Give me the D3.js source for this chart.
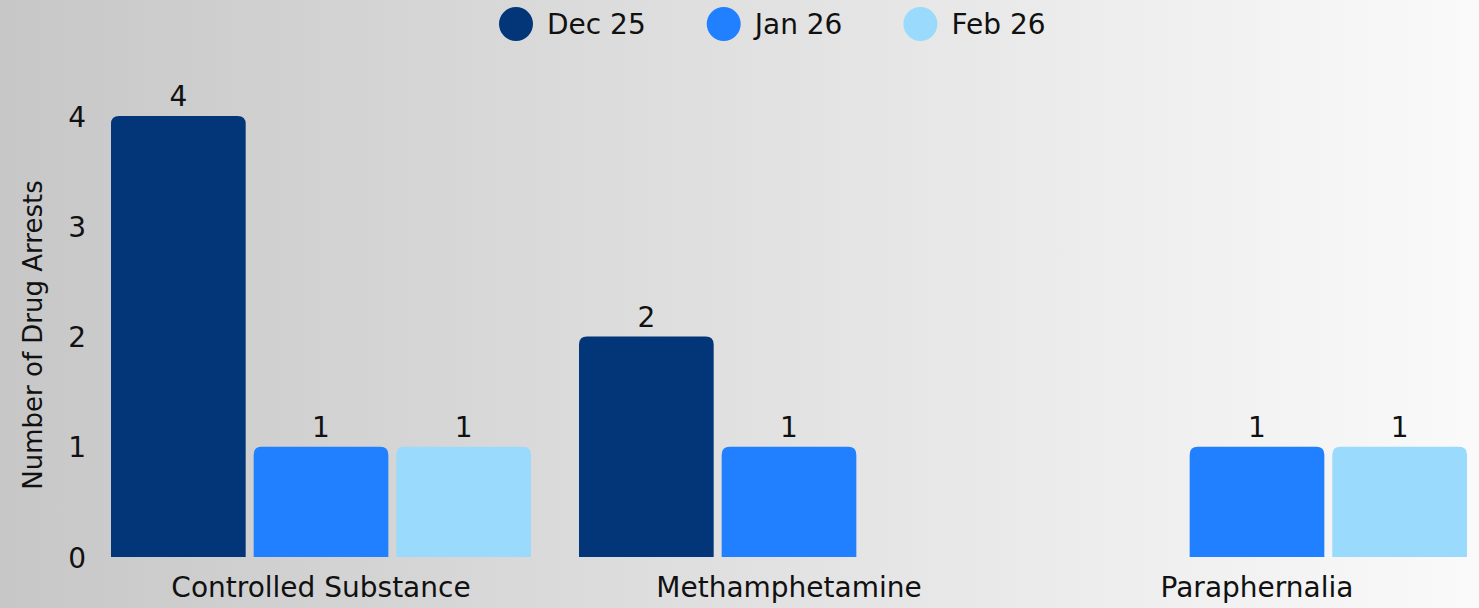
<!DOCTYPE html>
<html><head><meta charset="utf-8">
<script src="https://cdn.jsdelivr.net/npm/d3@7"></script>
<style>
html,body{margin:0;padding:0;width:1479px;height:608px;overflow:hidden;}
svg{display:block;font-family:"DejaVu Sans",sans-serif;}
</style></head>
<body>
<script>
const categories = ["Controlled Substance", "Methamphetamine", "Paraphernalia"];
const seriesNames = ["Dec 25", "Jan 26", "Feb 26"];
const dec25 = [4, 2, 0];
const jan26 = [1, 1, 1];
const feb26 = [1, 0, 1];
const yTicks = [0, 1, 2, 3, 4];
const colors = ["#033579", "#2180FF", "#9ADAFD"];
const yTitle = "Number of Drug Arrests";

const W = 1479, H = 608;
const series = [dec25, jan26, feb26];
const FONT = "'DejaVu Sans', sans-serif";
const FS = 28;

const svg = d3.select("body").append("svg").attr("width", W).attr("height", H);
const defs = svg.append("defs");
const grad = defs.append("linearGradient").attr("id","bg").attr("x1","0").attr("x2","1").attr("y1","0").attr("y2","0");
grad.append("stop").attr("offset","0").attr("stop-color","#c7c7c7");
grad.append("stop").attr("offset","1").attr("stop-color","#fafafa");
svg.append("rect").attr("width",W).attr("height",H).attr("fill","url(#bg)");

const x0 = d3.scaleBand().domain(categories).range([111, 1467]).paddingInner(48/468).paddingOuter(0);
const x1 = d3.scaleBand().domain(seriesNames).range([0, x0.bandwidth()]).paddingInner(8/143).paddingOuter(0);
const y = d3.scaleLinear().domain([0, 4]).range([557, 116]);

const textColor = "#111";

// y ticks
const yAxis = d3.axisLeft(y).tickValues(yTicks).tickFormat(d3.format("d")).tickSize(0).tickPadding(0);
const ya = svg.append("g").attr("transform","translate(86,0)").call(yAxis);
ya.select(".domain").remove();
ya.selectAll("text").attr("font-size",FS).attr("fill",textColor).attr("font-family",FONT).attr("dy","0.36em");

// y title
svg.append("text").attr("transform","translate(42,335) rotate(-90)")
  .attr("text-anchor","middle").attr("font-size",26).attr("fill",textColor).text(yTitle);

// bars
const r = 8;
function barPath(x, yTop, w, yBot){
  const rr = Math.min(r, (yBot - yTop), w/2);
  return `M${x},${yBot}V${yTop+rr}Q${x},${yTop} ${x+rr},${yTop}H${x+w-rr}Q${x+w},${yTop} ${x+w},${yTop+rr}V${yBot}Z`;
}
const data = [];
categories.forEach((c, i) => {
  seriesNames.forEach((s, j) => {
    data.push({c, s, j, v: series[j][i]});
  });
});
const g = svg.append("g");
g.selectAll("path.bar").data(data.filter(d => d.v > 0)).join("path")
  .attr("class","bar")
  .attr("d", d => barPath(x0(d.c) + x1(d.s), y(d.v), x1.bandwidth(), y(0)))
  .attr("fill", d => colors[d.j]);
g.selectAll("text.val").data(data.filter(d => d.v > 0)).join("text")
  .attr("class","val")
  .attr("x", d => x0(d.c) + x1(d.s) + x1.bandwidth()/2)
  .attr("y", d => y(d.v) - 10)
  .attr("text-anchor","middle").attr("font-size",FS).attr("fill",textColor)
  .text(d => d.v);

// x axis labels
const xAxis = d3.axisBottom(x0).tickSize(0).tickPadding(0);
const xa = svg.append("g").attr("transform","translate(0,557)").call(xAxis);
xa.select(".domain").remove();
xa.selectAll("text").attr("font-size",FS).attr("fill",textColor).attr("font-family",FONT).attr("dy",null).attr("y",40);

// legend
const leg = svg.append("g");
let lx = 499;
seriesNames.forEach((s, j) => {
  leg.append("circle").attr("cx", lx + 17).attr("cy", 24).attr("r", 17).attr("fill", colors[j]);
  const t = leg.append("text").attr("x", lx + 48).attr("y", 34).attr("font-size",FS).attr("fill",textColor).text(s);
  const w = t.node().getComputedTextLength();
  lx = lx + 48 + w + 61;
});
</script>
</body></html>
